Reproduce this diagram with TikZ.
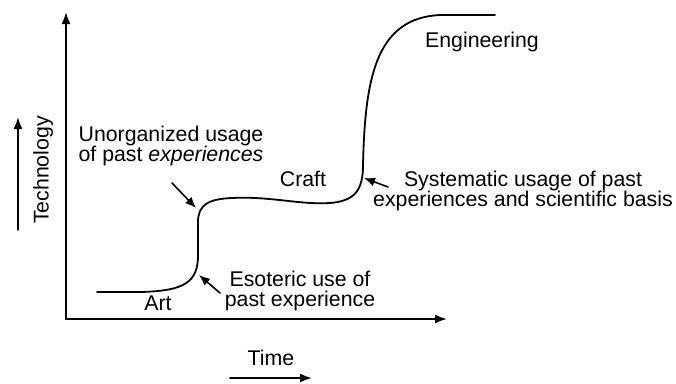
\documentclass[tikz,border=0pt]{standalone}
\usepackage{fontspec}
\setmainfont{Liberation Sans}
\usetikzlibrary{arrows.meta}

\begin{document}
\begin{tikzpicture}[
  x=1pt, y=-1pt,
  >={Latex[length=12pt,width=9pt]},
  line cap=round,
  line join=round,
  every node/.style={font=\fontsize{21.3}{20}\selectfont, inner sep=0pt},
  axis/.style={->, line width=1.8pt},
  pointer/.style={-{Latex[length=11pt,width=9pt]}, line width=1.6pt}
]
  \useasboundingbox (0,0) rectangle (676,383);

  % Axes
  \coordinate (o)  at ( 66,319);
  \coordinate (ty) at ( 66, 12);
  \coordinate (tx) at (447,319);
  \draw[axis] (o) -- (ty);
  \draw[axis] (o) -- (tx);

  % Side arrows with axis names
  \coordinate (t0) at ( 18,230);
  \coordinate (t1) at ( 18,117);
  \coordinate (s0) at (230,378);
  \coordinate (s1) at (312,378);
  \draw[axis] (t0) -- (t1);
  \draw[axis] (s0) -- (s1);
  \node[rotate=90] (tech) at ( 43,170) {Technology};
  \node            (time) at (271,358) {Time};

  % Growth curve: art -> craft -> engineering
  \draw[line width=1.8pt]
    (97,292) -- (140,292)
    .. controls (185,291) and (198,282) .. (198,255)
    -- (198,222)
    .. controls (198,205) and (208,199) .. (232,198)
    .. controls (270,196) and (300,205) .. (330,203)
    .. controls (355,201) and (363,190) .. (363,165)
    .. controls (365,80) and (375,18) .. (440,15)
    -- (495,15);

  % Stage names
  \node (art)   at (158,303) {Art};
  \node (craft) at (303,179) {Craft};
  \node (eng)   at (482, 42) {Engineering};

  % Remarks and their pointers
  \node[align=left]   (unorg) at (171,146) {Unorganized usage\\of past \textit{experiences}};
  \node[align=center] (esot)  at (300,291) {Esoteric use of\\past experience};
  \node[align=center] (syst)  at (523,191) {Systematic usage of past\\experiences and scientific basis};

  \coordinate (u0) at (172,183);
  \coordinate (u1) at (196,208);
  \coordinate (e0) at (220,293);
  \coordinate (e1) at (199,275);
  \coordinate (m0) at (388,187);
  \coordinate (m1) at (364,178);
  \draw[pointer] (u0) -- (u1);
  \draw[pointer] (e0) -- (e1);
  \draw[pointer] (m0) -- (m1);
\end{tikzpicture}
\end{document}
